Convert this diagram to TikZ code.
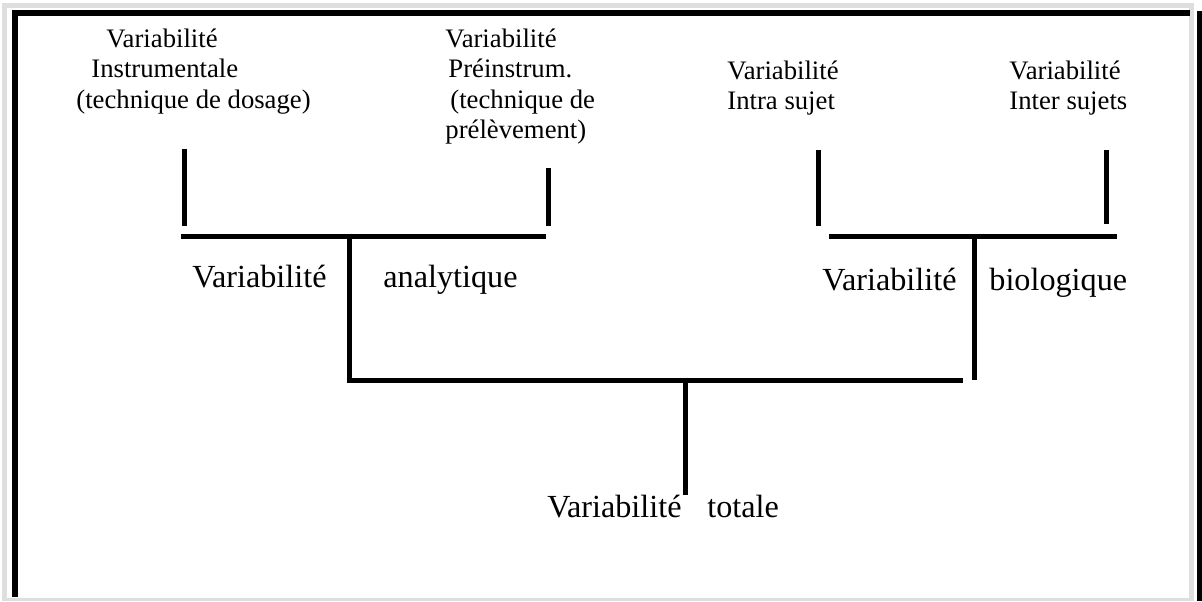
\documentclass[tikz,border=0pt]{standalone}
\usepackage{fontspec}
\setmainfont{Liberation Serif}
\definecolor{framegray}{HTML}{DEDEDE}
\begin{document}
\begin{tikzpicture}[x=0.5pt,y=-0.5pt,
  bar/.style={line width=2.5pt, line cap=butt, line join=miter},
  small/.style={font=\fontsize{13.35}{15.25}\selectfont, inner sep=0pt, anchor=base west},
  big/.style={font=\fontsize{16.1}{19}\selectfont, inner sep=0pt, anchor=base west}]
\useasboundingbox (0,0) rectangle (1202,601);
% frame
\fill[framegray] (2,3) rectangle (1194,7.5);
\fill[framegray] (2,3) rectangle (7,601);
\fill[framegray] (1189,3) rectangle (1194,601);
\fill[framegray] (2,598) rectangle (1194,601);
\fill[black] (12,9.5) rectangle (1190,15.5);
\fill[black] (12,9.5) rectangle (17.5,597);
\fill[black] (1196.5,10.5) rectangle (1202,601);
% labels
\node[small] (instr) at (76,47) {\begin{tabular}[t]{@{}l@{}}\hspace*{15pt}Variabilité\\\hspace*{7.5pt}Instrumentale\\(technique de dosage)\end{tabular}};
\node[small] (preinstr) at (445,47) {\begin{tabular}[t]{@{}l@{}}Variabilité\\\hspace*{1.5pt}Préinstrum.\\\hspace*{2.5pt}(technique de\\prélèvement)\end{tabular}};
\node[small] (intra) at (727,79) {\begin{tabular}[t]{@{}l@{}}Variabilité\\Intra sujet\end{tabular}};
\node[small] (inter) at (1009,79) {\begin{tabular}[t]{@{}l@{}}Variabilité\\Inter sujets\end{tabular}};
\node[big] (anaA) at (192,287) {Variabilité};
\node[big] (anaB) at (383,287) {analytique};
\node[big] (bioA) at (822,290) {Variabilité};
\node[big] (bioB) at (989,290) {biologique};
\node[big] (totA) at (547,517) {Variabilité};
\node[big] (totB) at (707,517) {totale};
% coordinates
\coordinate (t1a) at (184.5,149); \coordinate (t1b) at (184.5,226);
\coordinate (t2a) at (548.5,168); \coordinate (t2b) at (548.5,226);
\coordinate (t3a) at (818.5,150); \coordinate (t3b) at (818.5,226);
\coordinate (t4a) at (1106,150);  \coordinate (t4b) at (1106,224);
\coordinate (abL) at (181,236);   \coordinate (abR) at (546,236);
\coordinate (bbL) at (829,236);   \coordinate (bbR) at (1117,236);
\coordinate (aS) at (349.5,238);  \coordinate (aC) at (349.5,380);
\coordinate (lbR) at (963,380);
\coordinate (bS) at (974,238);    \coordinate (bE) at (974,380);
\coordinate (tS) at (685.5,382);  \coordinate (tE) at (685.5,495);
% connectors
\draw[bar] (t1a) -- (t1b);
\draw[bar] (t2a) -- (t2b);
\draw[bar] (t3a) -- (t3b);
\draw[bar] (t4a) -- (t4b);
\draw[bar] (abL) -- (abR);
\draw[bar] (bbL) -- (bbR);
\draw[bar] (aS) -- (aC) -- (lbR);
\draw[bar] (bS) -- (bE);
\draw[bar] (tS) -- (tE);
\end{tikzpicture}
\end{document}
